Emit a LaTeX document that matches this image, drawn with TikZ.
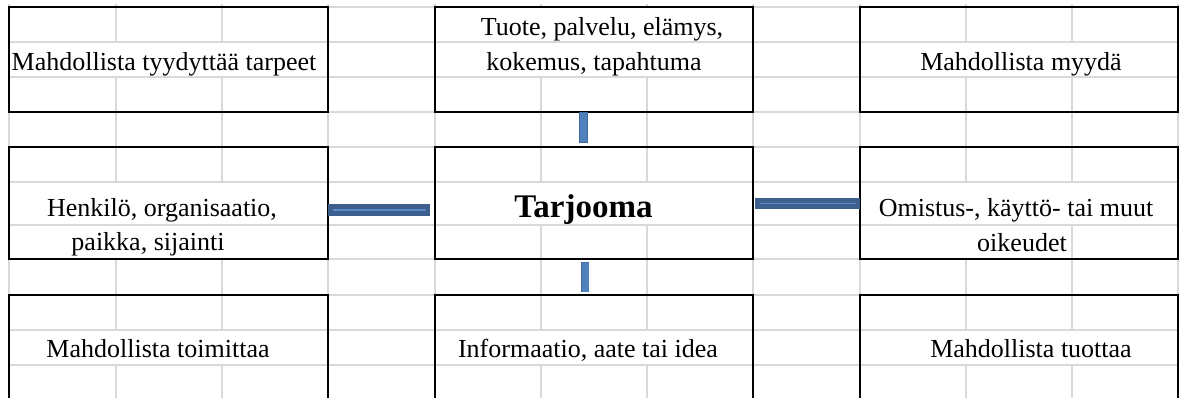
\documentclass[tikz,border=0pt]{standalone}
\usepackage{fontspec}
\setmainfont{Liberation Serif}
\definecolor{gridgray}{HTML}{D9D9D9}
\definecolor{hdark}{HTML}{3D5F8E}
\definecolor{hlight}{HTML}{5B8BCA}
\definecolor{vfill}{HTML}{4F81BD}
\definecolor{vborder}{HTML}{41699C}
\tikzset{
  gridline/.style={draw=gridgray, line width=1.3pt},
  mask/.style={fill=white, draw=none},
  box/.style={draw=black, line width=2pt, rectangle, inner sep=0pt, outer sep=0pt},
  txt/.style={inner sep=0pt, outer sep=0pt, anchor=base, font=\fontsize{26}{35}\selectfont, text=black},
  bigtxt/.style={inner sep=0pt, outer sep=0pt, anchor=base, font=\fontsize{33}{40}\selectfont\bfseries, text=black},
  hbarout/.style={draw=hdark, line width=11.4pt},
  hbarin/.style={draw=hlight, line width=1.8pt, shorten <=4.5pt, shorten >=4.5pt},
  vbarout/.style={draw=vborder, line width=8.6pt},
  vbarin/.style={draw=vfill, line width=7pt, shorten <=0.8pt, shorten >=0.8pt}
}
\begin{document}
\begin{tikzpicture}[x=1pt,y=-1pt]
\useasboundingbox (0,0) rectangle (1183,398);
\clip (0,0) rectangle (1183,398);
% grid
\foreach \gx in {9,116,222,328,435,541,647,753,860,966,1072,1178}
  \draw[gridline] (\gx,4) -- (\gx,398);
\foreach \gy in {7,42,77,112,147,182,225,259,295,330,365}
  \draw[gridline] (9,\gy) -- (1178,\gy);
% masks where cell text hides the vertical grid lines
\fill[mask] (10,42.8) rectangle (327,76.2);
\fill[mask] (436,7.8) rectangle (752,41.2);
\fill[mask] (436,42.8) rectangle (752,76.2);
\fill[mask] (861,42.8) rectangle (1177,76.2);
\fill[mask] (10,182.8) rectangle (327,224.2);
\fill[mask] (10,225.8) rectangle (327,258.2);
\fill[mask] (436,182.8) rectangle (752,224.2);
\fill[mask] (861,182.8) rectangle (1177,224.2);
\fill[mask] (900,225.8) rectangle (1040,258.2);
\fill[mask] (10,330.8) rectangle (327,364.2);
\fill[mask] (436,330.8) rectangle (752,364.2);
\fill[mask] (861,330.8) rectangle (1177,364.2);
% boxes
\node[box, minimum width=319pt, minimum height=105pt] (tl) at (168.5,59.5) {};
\node[box, minimum width=318pt, minimum height=105pt] (tm) at (594,59.5) {};
\node[box, minimum width=318pt, minimum height=105pt] (tr) at (1019,59.5) {};
\node[box, minimum width=319pt, minimum height=112pt] (ml) at (168.5,203) {};
\node[box, minimum width=318pt, minimum height=112pt] (mm) at (594,203) {};
\node[box, minimum width=318pt, minimum height=112pt] (mr) at (1019,203) {};
\node[box, minimum width=319pt, minimum height=110pt] (bl) at (168.5,350) {};
\node[box, minimum width=318pt, minimum height=110pt] (bm) at (594,350) {};
\node[box, minimum width=318pt, minimum height=110pt] (br) at (1019,350) {};
% texts
\node[txt] (tlt) at (164,70.7) {Mahdollista tyydyttää tarpeet};
\node[txt] (tmt1) at (602,35.5) {Tuote, palvelu, elämys,};
\node[txt] (tmt2) at (594,70.7) {kokemus, tapahtuma};
\node[txt] (trt) at (1021,70.7) {Mahdollista myydä};
\node[txt] (mlt1) at (162,216) {Henkilö, organisaatio,};
\node[txt] (mlt2) at (148,251) {paikka, sijainti};
\node[bigtxt] (mmt) at (583.5,217.3) {Tarjooma};
\node[txt] (mrt1) at (1016,216.5) {Omistus-, käyttö- tai muut};
\node[txt] (mrt2) at (1022,251.5) {oikeudet};
\node[txt] (blt) at (158,357) {Mahdollista toimittaa};
\node[txt] (bmt) at (588,357) {Informaatio, aate tai idea};
\node[txt] (brt) at (1031,357) {Mahdollista tuottaa};
% connector end points
\coordinate (topend) at (583.2,142.7);
\coordinate (botstart) at (585,261.7);
\coordinate (botend) at (585,292.3);
\coordinate (leftend) at (430,210);
\coordinate (rightstart) at (755,203.6);
% connectors
\draw[vbarout] (topend |- tm.south) -- (topend);
\draw[vbarin] (topend |- tm.south) -- (topend);
\draw[vbarout] (botstart) -- (botend);
\draw[vbarin] (botstart) -- (botend);
\draw[hbarout] (leftend -| ml.east) -- (leftend);
\draw[hbarin] (leftend -| ml.east) -- (leftend);
\draw[hbarout] (rightstart) -- (rightstart -| mr.west);
\draw[hbarin] (rightstart) -- (rightstart -| mr.west);
\end{tikzpicture}
\end{document}
